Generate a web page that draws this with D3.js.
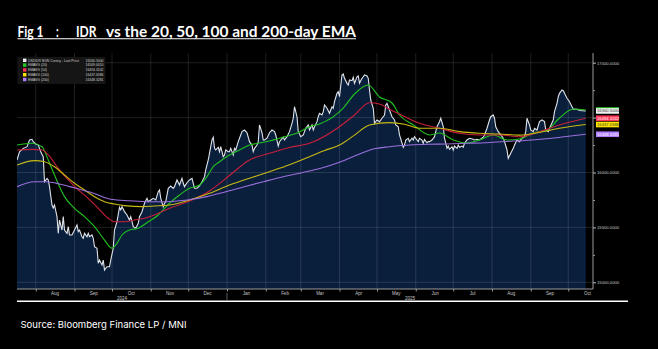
<!DOCTYPE html>
<html lang="en">
<head>
<meta charset="utf-8">
<title>IDR vs EMA</title>
<script src="https://cdn.jsdelivr.net/npm/d3@7"></script>
<style>
  body { margin: 0; background: #000; }
  svg { display: block; }
</style>
</head>
<body>
<script>

// USDIDR last price
var lastPrice = [
  ["2024-07-17",16114],["2024-07-19",16189],["2024-07-22",16220],["2024-07-25",16235],["2024-07-27",16296],
  ["2024-07-29",16302],["2024-07-30",16281],["2024-08-01",16260],["2024-08-03",16250],["2024-08-05",16189],
  ["2024-08-07",16144],["2024-08-08",15916],["2024-08-10",15947],["2024-08-11",15932],["2024-08-12",15871],
  ["2024-08-14",15704],["2024-08-15",15677],["2024-08-16",15704],["2024-08-18",15598],["2024-08-19",15446],
  ["2024-08-20",15567],["2024-08-22",15476],["2024-08-23",15598],["2024-08-24",15476],["2024-08-26",15446],
  ["2024-08-27",15507],["2024-08-28",15431],["2024-08-30",15431],["2024-09-01",15476],["2024-09-03",15522],
  ["2024-09-04",15461],["2024-09-05",15476],["2024-09-07",15415],["2024-09-08",15401],["2024-09-09",15446],
  ["2024-09-11",15415],["2024-09-12",15446],["2024-09-13",15415],["2024-09-15",15431],["2024-09-16",15401],
  ["2024-09-17",15324],["2024-09-19",15310],["2024-09-20",15173],["2024-09-21",15203],["2024-09-23",15158],
  ["2024-09-24",15203],["2024-09-25",15112],["2024-09-27",15142],["2024-09-29",15142],["2024-09-30",15203],
  ["2024-10-02",15310],["2024-10-03",15476],["2024-10-05",15552],["2024-10-07",15683],["2024-10-08",15659],
  ["2024-10-09",15689],["2024-10-11",15643],["2024-10-13",15613],["2024-10-15",15567],["2024-10-16",15598],
  ["2024-10-18",15507],["2024-10-20",15492],["2024-10-22",15537],["2024-10-23",15598],["2024-10-25",15643],
  ["2024-10-27",15720],["2024-10-29",15765],["2024-10-30",15734],["2024-11-01",15750],["2024-11-03",15765],
  ["2024-11-05",15750],["2024-11-07",15825],["2024-11-08",15841],["2024-11-09",15765],["2024-11-11",15689],
  ["2024-11-12",15720],["2024-11-13",15734],["2024-11-15",15856],["2024-11-17",15877],["2024-11-19",15856],
  ["2024-11-20",15871],["2024-11-22",15932],["2024-11-24",15886],["2024-11-26",15947],["2024-11-27",15902],
  ["2024-11-28",15871],["2024-11-30",15907],["2024-12-02",15932],["2024-12-04",15947],["2024-12-05",15902],
  ["2024-12-06",15856],["2024-12-08",15856],["2024-12-10",15877],["2024-12-12",15916],["2024-12-14",15962],
  ["2024-12-15",16023],["2024-12-17",16114],["2024-12-18",16175],["2024-12-20",16296],["2024-12-21",16321],
  ["2024-12-22",16220],["2024-12-23",16205],["2024-12-25",16230],["2024-12-26",16189],["2024-12-27",16235],
  ["2024-12-29",16144],["2024-12-30",16159],["2024-12-31",16205],["2025-01-02",16189],["2025-01-03",16189],
  ["2025-01-04",16220],["2025-01-06",16159],["2025-01-07",16220],["2025-01-08",16205],["2025-01-10",16281],
  ["2025-01-11",16312],["2025-01-13",16372],["2025-01-15",16387],["2025-01-17",16362],["2025-01-19",16281],
  ["2025-01-21",16250],["2025-01-22",16189],["2025-01-23",16220],["2025-01-25",16250],["2025-01-26",16281],
  ["2025-01-27",16433],["2025-01-29",16362],["2025-01-30",16296],["2025-01-31",16296],["2025-02-02",16312],
  ["2025-02-04",16362],["2025-02-06",16387],["2025-02-08",16372],["2025-02-09",16342],["2025-02-11",16241],
  ["2025-02-12",16280],["2025-02-15",16323],["2025-02-16",16296],["2025-02-18",16326],["2025-02-20",16372],
  ["2025-02-22",16448],["2025-02-23",16494],["2025-02-24",16599],["2025-02-26",16508],["2025-02-27",16372],
  ["2025-03-01",16326],["2025-03-03",16342],["2025-03-05",16403],["2025-03-07",16433],["2025-03-08",16387],
  ["2025-03-10",16433],["2025-03-11",16387],["2025-03-12",16417],["2025-03-14",16463],["2025-03-15",16508],
  ["2025-03-16",16539],["2025-03-18",16524],["2025-03-19",16554],["2025-03-20",16615],["2025-03-22",16585],
  ["2025-03-24",16539],["2025-03-26",16599],["2025-03-27",16585],["2025-03-28",16645],["2025-03-30",16721],
  ["2025-03-31",16736],["2025-04-01",16690],["2025-04-03",16888],["2025-04-04",16897],["2025-04-05",16858],
  ["2025-04-07",16812],["2025-04-08",16797],["2025-04-09",16842],["2025-04-11",16836],["2025-04-12",16867],
  ["2025-04-13",16812],["2025-04-15",16872],["2025-04-16",16879],["2025-04-17",16812],["2025-04-19",16858],
  ["2025-04-20",16872],["2025-04-21",16888],["2025-04-23",16879],["2025-04-24",16858],["2025-04-25",16751],
  ["2025-04-26",16660],["2025-04-28",16585],["2025-04-29",16448],["2025-05-01",16478],["2025-05-03",16463],
  ["2025-05-05",16494],["2025-05-07",16524],["2025-05-08",16615],["2025-05-09",16630],["2025-05-11",16569],
  ["2025-05-13",16508],["2025-05-15",16478],["2025-05-16",16433],["2025-05-18",16417],["2025-05-19",16342],
  ["2025-05-22",16230],["2025-05-23",16250],["2025-05-24",16296],["2025-05-26",16312],["2025-05-27",16281],
  ["2025-05-29",16312],["2025-05-30",16296],["2025-05-31",16326],["2025-06-02",16296],["2025-06-03",16281],
  ["2025-06-04",16312],["2025-06-06",16296],["2025-06-07",16266],["2025-06-08",16302],["2025-06-10",16271],
  ["2025-06-11",16281],["2025-06-12",16281],["2025-06-14",16296],["2025-06-16",16326],["2025-06-17",16372],
  ["2025-06-18",16417],["2025-06-20",16463],["2025-06-21",16494],["2025-06-23",16417],["2025-06-24",16312],
  ["2025-06-26",16220],["2025-06-27",16241],["2025-06-28",16211],["2025-06-30",16235],["2025-07-01",16205],
  ["2025-07-02",16241],["2025-07-04",16220],["2025-07-05",16250],["2025-07-06",16230],["2025-07-08",16241],
  ["2025-07-09",16230],["2025-07-10",16266],["2025-07-12",16296],["2025-07-14",16312],["2025-07-17",16302],
  ["2025-07-18",16296],["2025-07-20",16302],["2025-07-22",16296],["2025-07-25",16321],["2025-07-26",16342],
  ["2025-07-28",16403],["2025-07-30",16478],["2025-07-31",16508],["2025-08-02",16524],["2025-08-03",16494],
  ["2025-08-04",16417],["2025-08-06",16372],["2025-08-08",16342],["2025-08-10",16312],["2025-08-11",16281],
  ["2025-08-13",16205],["2025-08-14",16129],["2025-08-16",16175],["2025-08-18",16220],["2025-08-19",16250],
  ["2025-08-21",16296],["2025-08-23",16281],["2025-08-25",16312],["2025-08-27",16326],["2025-08-28",16372],
  ["2025-08-29",16494],["2025-08-31",16433],["2025-09-01",16387],["2025-09-03",16372],["2025-09-04",16403],
  ["2025-09-06",16387],["2025-09-08",16463],["2025-09-10",16478],["2025-09-12",16463],["2025-09-13",16387],
  ["2025-09-15",16372],["2025-09-16",16403],["2025-09-19",16478],["2025-09-20",16554],["2025-09-22",16630],
  ["2025-09-23",16690],["2025-09-24",16721],["2025-09-26",16751],["2025-09-27",16745],["2025-09-28",16721],
  ["2025-09-30",16676],["2025-10-02",16645],["2025-10-04",16599],["2025-10-05",16576],["2025-10-08",16576],
  ["2025-10-10",16565],["2025-10-15",16560.5]
];

var ema20 = [
  ["2024-07-17",16251],["2024-07-29",16266],["2024-08-06",16235],["2024-08-11",16114],["2024-08-16",15977],
  ["2024-08-24",15780],["2024-09-01",15674],["2024-09-09",15598],["2024-09-17",15507],["2024-09-25",15385],
  ["2024-10-01",15310],["2024-10-05",15355],["2024-10-09",15431],["2024-10-15",15476],["2024-10-22",15492],
  ["2024-10-30",15552],["2024-11-07",15613],["2024-11-12",15674],["2024-11-16",15720],["2024-11-24",15795],
  ["2024-12-02",15856],["2024-12-10",15886],["2024-12-16",15962],["2024-12-21",16053],["2024-12-26",16098],
  ["2025-01-03",16159],["2025-01-11",16205],["2025-01-19",16250],["2025-01-27",16269],["2025-02-04",16287],
  ["2025-02-12",16312],["2025-02-28",16369],["2025-03-08",16417],["2025-03-16",16442],["2025-04-04",16587],
  ["2025-04-13",16715],["2025-04-24",16797],["2025-05-03",16688],["2025-05-13",16633],["2025-05-19",16524],
  ["2025-05-30",16433],["2025-06-12",16342],["2025-06-20",16360],["2025-07-01",16296],["2025-07-12",16269],
  ["2025-07-22",16296],["2025-08-02",16342],["2025-08-13",16296],["2025-08-23",16305],["2025-09-03",16360],
  ["2025-09-14",16387],["2025-09-24",16496],["2025-10-05",16578],["2025-10-15",16569]
];

var ema50 = [
  ["2024-07-17",16205],["2024-07-29",16211],["2024-08-06",16205],["2024-08-11",16160],["2024-08-19",16038],
  ["2024-08-27",15932],["2024-09-04",15841],["2024-09-12",15765],["2024-09-20",15674],["2024-09-28",15583],
  ["2024-10-03",15552],["2024-10-11",15552],["2024-10-19",15567],["2024-10-27",15583],["2024-11-04",15613],
  ["2024-11-16",15674],["2024-12-02",15740],["2024-12-18",15832],["2025-01-03",15973],["2025-01-19",16114],
  ["2025-02-04",16175],["2025-02-20",16228],["2025-03-08",16266],["2025-04-01",16417],["2025-04-13",16524],
  ["2025-04-25",16635],["2025-05-03",16624],["2025-05-11",16576],["2025-05-23",16510],["2025-06-04",16448],
  ["2025-06-20",16403],["2025-07-06",16357],["2025-07-22",16342],["2025-08-07",16342],["2025-08-23",16326],
  ["2025-09-08",16372],["2025-09-24",16433],["2025-10-15",16494]
];

var ema100 = [
  ["2024-07-17",16068],["2024-07-31",16108],["2024-08-08",16098],["2024-08-16",16053],["2024-08-24",15977],
  ["2024-09-01",15902],["2024-09-09",15841],["2024-09-17",15780],["2024-09-25",15734],["2024-10-03",15713],
  ["2024-10-11",15698],["2024-10-25",15689],["2024-11-04",15695],["2024-11-16",15704],["2024-12-02",15750],
  ["2024-12-18",15811],["2025-01-03",15886],["2025-01-19",15947],["2025-02-04",16007],["2025-02-20",16070],
  ["2025-03-08",16144],["2025-03-20",16200],["2025-04-01",16250],["2025-04-13",16340],["2025-04-25",16433],
  ["2025-05-11",16454],["2025-05-23",16440],["2025-06-04",16403],["2025-06-20",16403],["2025-07-06",16372],
  ["2025-07-22",16357],["2025-08-07",16351],["2025-08-23",16340],["2025-09-08",16365],["2025-09-24",16403],
  ["2025-10-15",16437]
];

var ema200 = [
  ["2024-07-17",15871],["2024-07-31",15916],["2024-08-09",15916],["2024-08-21",15893],["2024-09-02",15856],
  ["2024-09-15",15816],["2024-09-30",15756],["2024-10-15",15743],["2024-10-31",15734],["2024-11-15",15734],
  ["2024-11-30",15750],["2024-12-16",15780],["2024-12-31",15825],["2025-01-15",15871],["2025-01-30",15916],
  ["2025-02-15",15962],["2025-03-02",15998],["2025-03-17",16038],["2025-04-02",16098],["2025-04-17",16169],
  ["2025-04-28",16214],["2025-05-11",16235],["2025-05-27",16250],["2025-06-11",16257],["2025-06-26",16260],
  ["2025-07-12",16266],["2025-07-27",16271],["2025-08-11",16282],["2025-08-27",16292],["2025-09-11",16305],
  ["2025-09-26",16323],["2025-10-15",16348]
];

var legendLabels = ["USDIDR BGN Curncy - Last Price", "EMAVG (20)", "EMAVG (50)", "EMAVG (100)", "EMAVG (200)"];
var lastValues = [16560.5, 16569.041, 16494.3242, 16437.0586, 16348.3281];
var yTickValues = [15000, 15500, 16000, 16500, 17000];
var yMinorValues = [15250, 15750, 16250, 16750];
var dateStart = "2024-07-17", dateEnd = "2025-10-15";
var titleParts = ["Fig 1", ":", "IDR", "vs the 20, 50, 100 and 200-day EMA"];

// styles
var lineColors = ["#dfe3ea", "#1fc21f", "#c8203c", "#c9b914", "#9b6fdc"];
var boxColors  = ["#f2f2f2", "#22cc22", "#ff3355", "#ffe600", "#b07cff"];
var boxText    = ["#333", "#111", "#fff", "#333", "#fff"];

var w = 658, h = 349;
var plot = {left: 17, right: 593, top: 53, bottom: 289};

var parse = d3.timeParse("%Y-%m-%d");
function toSeries(arr) { return arr.map(d => ({date: parse(d[0]), value: d[1]})); }

var price = toSeries(lastPrice);
var emas = [ema20, ema50, ema100, ema200].map(toSeries);

var svg = d3.select("body").append("svg")
    .attr("width", w)
    .attr("height", h)
    .style("background", "#000");

var x = d3.scaleTime()
    .domain([parse(dateStart), parse(dateEnd)])
    .range([17, 585.75]);

var y = d3.scaleLinear()
    .domain([15000, 17000])
    .range([282.3, 62.7]);

svg.append("clipPath").attr("id", "clip")
  .append("rect")
    .attr("x", plot.left).attr("y", plot.top)
    .attr("width", plot.right - plot.left).attr("height", plot.bottom - plot.top);

var chart = svg.append("g").attr("clip-path", "url(#clip)");

// area under price
chart.append("path")
    .datum(price)
    .attr("fill", "#0a1f3c")
    .attr("d", d3.area().x(d => x(d.date)).y0(plot.bottom).y1(d => y(d.value)));

// grid
var monthStarts = d3.timeMonth.range(parse("2024-08-01"), parse("2025-10-02"));
chart.selectAll(".vgrid").data(monthStarts).enter().append("line")
    .attr("x1", d => x(d)).attr("x2", d => x(d))
    .attr("y1", plot.top).attr("y2", plot.bottom)
    .attr("stroke", "rgba(255,255,255,0.15)").attr("stroke-width", 0.8);
chart.selectAll(".hgrid").data(yTickValues).enter().append("line")
    .attr("x1", plot.left).attr("x2", plot.right)
    .attr("y1", d => y(d)).attr("y2", d => y(d))
    .attr("stroke", "rgba(255,255,255,0.15)").attr("stroke-width", 0.8);

// lines
chart.append("path")
    .datum(price)
    .attr("fill", "none")
    .attr("stroke", lineColors[0])
    .attr("stroke-width", 1.1)
    .attr("d", d3.line().x(d => x(d.date)).y(d => y(d.value)));

var emaLine = d3.line().curve(d3.curveMonotoneX).x(d => x(d.date)).y(d => y(d.value));
emas.forEach(function(s, i) {
  chart.append("path")
      .datum(s)
      .attr("fill", "none")
      .attr("stroke", lineColors[i + 1])
      .attr("stroke-width", 1.1)
      .attr("d", emaLine);
});

// axes lines
svg.append("line")
    .attr("x1", plot.left).attr("x2", plot.right)
    .attr("y1", plot.bottom).attr("y2", plot.bottom)
    .attr("stroke", "#9a9a9a").attr("stroke-width", 1);
svg.append("line")
    .attr("x1", plot.right).attr("x2", plot.right)
    .attr("y1", plot.top).attr("y2", plot.bottom)
    .attr("stroke", "#9a9a9a").attr("stroke-width", 1);

// right axis
var yAxis = svg.append("g")
    .attr("transform", `translate(${plot.right},0)`)
    .call(d3.axisRight(y).tickValues(yTickValues).tickSize(3).tickPadding(1).tickFormat(d3.format(".4f")));
yAxis.select(".domain").remove();
yAxis.selectAll("line").attr("stroke", "#bbb");
yAxis.selectAll("text").attr("fill", "#c8c8c8").style("font", "4.2px 'Liberation Sans'");

var yMinor = svg.append("g")
    .attr("transform", `translate(${plot.right},0)`)
    .call(d3.axisRight(y).tickValues(yMinorValues).tickSize(2).tickFormat(""));
yMinor.select(".domain").remove();
yMinor.selectAll("line").attr("stroke", "#999");

// bottom axis: tick marks at month starts, labels mid-month
var xTicks = svg.append("g")
    .attr("transform", `translate(0,${plot.bottom})`)
    .call(d3.axisBottom(x).tickValues(monthStarts).tickSize(2.5).tickFormat(""));
xTicks.select(".domain").remove();
xTicks.selectAll("line").attr("stroke", "#999");

var midMonths = monthStarts.map(d => d3.timeDay.offset(d, 15));
var xLabels = svg.append("g")
    .attr("transform", `translate(0,${plot.bottom})`)
    .call(d3.axisBottom(x).tickValues(midMonths).tickSize(0).tickPadding(3).tickFormat(d3.timeFormat("%b")));
xLabels.select(".domain").remove();
xLabels.selectAll("text").attr("fill", "#c8c8c8").style("font", "4.5px 'Liberation Sans'");

// year labels and separator
var jan1 = x(parse("2025-01-01"));
svg.append("line")
    .attr("x1", jan1).attr("x2", jan1)
    .attr("y1", 293).attr("y2", 300)
    .attr("stroke", "#999").attr("stroke-width", 0.6);
[["2024", (plot.left + jan1) / 2], ["2025", (jan1 + plot.right) / 2]].forEach(function(d) {
  svg.append("text")
      .attr("x", d[1]).attr("y", 300)
      .attr("text-anchor", "middle")
      .attr("fill", "#c8c8c8")
      .style("font", "4.5px 'Liberation Sans'")
      .text(d[0]);
});

// legend box
var legend = svg.append("g");
legend.append("rect")
    .attr("x", 17.5).attr("y", 57).attr("width", 88).attr("height", 27)
    .attr("fill", "#161616").attr("opacity", 0.95);
legendLabels.forEach(function(lbl, i) {
  var ly = 60.3 + i * 4.8;
  legend.append("rect")
      .attr("x", 23).attr("y", ly - 1.7).attr("width", 3.4).attr("height", 3.4)
      .attr("fill", boxColors[i]);
  legend.append("text")
      .attr("x", 28).attr("y", ly + 1.2)
      .attr("fill", "#d0d0d0")
      .style("font", "3.4px 'Liberation Sans'")
      .text(lbl);
  legend.append("text")
      .attr("x", 103.5).attr("y", ly + 1.2)
      .attr("text-anchor", "end")
      .attr("fill", "#d0d0d0")
      .style("font", "3.4px 'Liberation Sans'")
      .text(d3.format(".4f")(lastValues[i]));
});

// last value boxes on the right axis (green drawn under white)
[1, 0, 2, 3, 4].forEach(function(i) {
  var cy = y(lastValues[i]);
  svg.append("rect")
      .attr("x", 596).attr("y", cy - 2.8).attr("width", 23).attr("height", 5.6)
      .attr("fill", boxColors[i]);
  svg.append("text")
      .attr("x", 597).attr("y", cy + 1.5)
      .attr("fill", boxText[i])
      .style("font", "4.2px 'Liberation Sans'")
      .text(d3.format(".4f")(lastValues[i]));
});

// title, set in pieces to keep the wide gaps
var titleX = [17.5, 56, 76, 106];
var titleW = [26, 2.8, 20.5, 250];
titleParts.forEach(function(t, i) {
  svg.append("text")
      .attr("x", titleX[i]).attr("y", 37.3)
      .attr("fill", "#fff")
      .attr("textLength", titleW[i]).attr("lengthAdjust", "spacingAndGlyphs")
      .style("font", "bold 15px Lato")
      .text(t);
});
svg.append("line")
    .attr("x1", 17.5).attr("x2", 356)
    .attr("y1", 38.8).attr("y2", 38.8)
    .attr("stroke", "#fff").attr("stroke-width", 1.1);

// separator and source
svg.append("line")
    .attr("x1", 17).attr("x2", 628)
    .attr("y1", 301.3).attr("y2", 301.3)
    .attr("stroke", "#fff").attr("stroke-width", 1.6);
svg.append("text")
    .attr("x", 20.5).attr("y", 327.5)
    .attr("fill", "#fff")
    .attr("textLength", 166).attr("lengthAdjust", "spacingAndGlyphs")
    .style("font", "9.5px Inter")
    .text("Source: Bloomberg Finance LP / MNI");

</script>
</body>
</html>
